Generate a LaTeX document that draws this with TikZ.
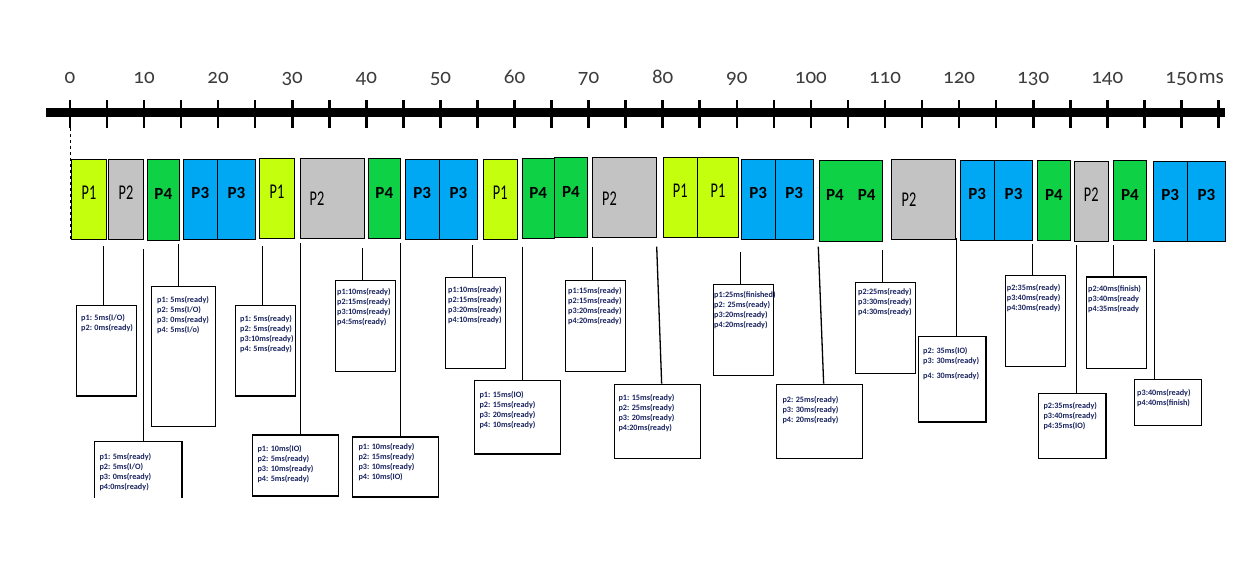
\documentclass[tikz,border=0pt]{standalone}
\usepackage{fontspec}
\setmainfont{Carlito}
\newfontfamily\numfont[Numbers=OldStyle]{Carlito}
\usetikzlibrary{fit}
\definecolor{limec}{RGB}{196,255,14}
\definecolor{grayc}{RGB}{195,195,195}
\definecolor{greenc}{RGB}{14,209,69}
\definecolor{bluec}{RGB}{0,168,243}
\definecolor{inkc}{RGB}{25,35,95}
\definecolor{numc}{RGB}{60,60,60}
\newcommand{\narrowtxt}[1]{\scalebox{0.68}[1]{#1}}

\begin{document}
\begin{tikzpicture}[x=1pt, y=-1pt,
	blk/.style={draw, line width=0.8, inner sep=0},
	pone/.style={blk, fill=limec, font=\fontsize{21}{21}\selectfont},
	ptwo/.style={blk, fill=grayc, font=\fontsize{21}{21}\selectfont},
	pthree/.style={blk, fill=bluec, font=\bfseries\fontsize{17}{17}\selectfont},
	pfour/.style={blk, fill=greenc, font=\bfseries\fontsize{17}{17}\selectfont},
	plabel/.style={inner sep=0, font=\fontsize{21}{21}\selectfont},
	num/.style={inner sep=0, text=numc, font=\numfont\fontsize{21}{21}\selectfont},
	sbox/.style={draw, line width=1.3, inner sep=0},
	stxt/.style={inner sep=0, anchor=north west, align=left, text=inkc, font=\bfseries\fontsize{8.2}{10}\selectfont, execute at begin node={\rule{0pt}{7pt}}},
	wire/.style={line width=1.3}]
	\fill[white] (0,0) rectangle (1256,562);
	\useasboundingbox (0,0) rectangle (1256,562);
	% time axis
	\draw[line width=9.6] (46,112.5) -- (1225,112.5);
	\foreach \t in {0,5,...,155}
		\draw[line width=2.6] ({69.9+7.41*\t},100) -- ({69.9+7.41*\t},128.3);
	\foreach \t in {0,10,...,150}
		\node[num, anchor=base] (n\t) at ({69.9+7.41*\t},83) {\t};
	\node[num, anchor=base west] (nms) at ([xshift=1]n150.base east) {ms};
	\coordinate (tk0) at (69.9,128.3);
	% time slices
	\node[pone, fit={(71.5,159) (106.5,239)}] (b1) {\narrowtxt{P1}};
	\node[ptwo, fit={(108.5,159) (143.4,239)}] (b2) {\narrowtxt{P2}};
	\node[pfour, fit={(147,159) (179.6,240)}] (b3) {P4};
	\node[pthree, fit={(183.2,159) (217.4,239)}] (b4) {P3};
	\node[pthree, fit={(217.4,159) (255.5,239)}] (b5) {P3};
	\node[pone, fit={(259.5,158.3) (294.5,238.3)}] (b6) {\narrowtxt{P1}};
	\node[ptwo, fit={(300.5,158) (364,238.3)}] (b7) {};
		\node[plabel] (b7l) at (317,199) {\narrowtxt{P2}};
	\node[pfour, fit={(368,158.3) (400.6,238.3)}] (b8) {P4};
	\node[pthree, fit={(405.4,159) (439.1,239)}] (b9) {P3};
	\node[pthree, fit={(439.1,159) (477.7,239)}] (b10) {P3};
	\node[pone, fit={(483,159) (517.5,239)}] (b11) {\narrowtxt{P1}};
	\node[pfour, fit={(521.9,158.3) (554.4,238.3)}] (b12) {P4};
	\node[pfour, fit={(554.4,157.3) (587.4,237.7)}] (b13) {P4};
	\node[ptwo, fit={(592.6,157.7) (656.5,237.3)}] (b14) {};
		\node[plabel] (b14l) at (609.5,198.5) {\narrowtxt{P2}};
	\node[pone, fit={(663,157.7) (697.5,237.7)}] (b15) {\narrowtxt{P1}};
	\node[pone, fit={(697.5,157.7) (738.5,237.7)}] (b16) {\narrowtxt{P1}};
	\node[pthree, fit={(741.3,159) (775,239)}] (b17) {P3};
	\node[pthree, fit={(775,159) (813.5,239)}] (b18) {P3};
	\node[pfour, fit={(819.2,160) (882.5,241)}] (b19) {P4\hspace{14pt}P4};
	\node[ptwo, fit={(891,159) (955,239.7)}] (b20) {};
		\node[plabel] (b20l) at (909,199.5) {\narrowtxt{P2}};
	\node[pthree, fit={(960,160) (994.5,240)}] (b21) {P3};
	\node[pthree, fit={(994.5,160) (1032.6,240)}] (b22) {P3};
	\node[pfour, fit={(1037,160) (1070.7,240.7)}] (b23) {P4};
	\node[ptwo, fit={(1074.4,161) (1108,241.7)}] (b24) {\narrowtxt{P2}};
	\node[pfour, fit={(1113.3,160) (1146.6,240.3)}] (b25) {P4};
	\node[pthree, fit={(1153.5,161) (1187,241)}] (b26) {P3};
	\node[pthree, fit={(1187,161) (1225.7,241)}] (b27) {P3};
	\draw[dashed, line width=0.6] (tk0) -- (tk0 |- b1.south);
	% state boxes
	\node[sbox, fit={(76.3,305.3) (136.7,396)}] (s1) {};
		\node[stxt] (s1t) at (81,314.2) {p1: 5ms(I/O)\\p2: 0ms(ready)};
	\node[sbox, draw=none, fit={(95.3,442.3) (181.3,497)}] (s2) {};
		\draw[wire] (s2.south west) -- (s2.north west) -- (s2.north east) -- (s2.south east);
		\node[stxt] (s2t) at (99.3,453.2) {p1: 5ms(ready)\\p2: 5ms(I/O)\\p3: 0ms(ready)\\p4:0ms(ready)};
	\node[sbox, fit={(151.3,286.3) (215.7,426.3)}] (s3) {};
		\node[stxt] (s3t) at (157,296.5) {p1: 5ms(ready)\\p2: 5ms(I/O)\\p3: 0ms(ready)\\p4: 5ms(I/o)};
	\node[sbox, fit={(235.3,305.3) (295.7,396)}] (s4) {};
		\node[stxt] (s4t) at (240,315.2) {p1: 5ms(ready)\\p2: 5ms(ready)\\p3:10ms(ready)\\p4: 5ms(ready)};
	\node[sbox, fit={(252.3,435) (338.3,496)}] (s5) {};
		\node[stxt] (s5t) at (257.3,445.5) {p1: 10ms(IO)\\p2: 5ms(ready)\\p3: 10ms(ready)\\p4: 5ms(ready)};
	\node[sbox, fit={(335.3,280.3) (395.3,371.3)}] (s6) {};
		\node[stxt] (s6t) at (337,288.2) {p1:10ms(ready)\\p2:15ms(ready)\\p3:10ms(ready)\\p4:5ms(ready)};
	\node[sbox, fit={(352.3,437) (438.7,497)}] (s7) {};
		\node[stxt] (s7t) at (358.3,443.2) {p1: 10ms(ready)\\p2: 15ms(ready)\\p3: 10ms(ready)\\p4: 10ms(IO)};
	\node[sbox, fit={(445.3,277.3) (505.7,368.3)}] (s8) {};
		\node[stxt] (s8t) at (448,286.5) {p1:10ms(ready)\\p2:15ms(ready)\\p3:20ms(ready)\\p4:10ms(ready)};
	\node[sbox, fit={(474.3,380.3) (560.3,454)}] (s9) {};
		\node[stxt] (s9t) at (479.3,390.8) {p1: 15ms(IO)\\p2: 15ms(ready)\\p3: 20ms(ready)\\p4: 10ms(ready)};
	\node[sbox, fit={(565.3,280.3) (625.3,371.3)}] (s10) {};
		\node[stxt] (s10t) at (568,287.2) {p1:15ms(ready)\\p2:15ms(ready)\\p3:20ms(ready)\\p4:20ms(ready)};
	\node[sbox, fit={(614.3,384.3) (700.3,458.3)}] (s11) {};
		\node[stxt] (s11t) at (618.3,393.8) {p1: 15ms(ready)\\p2: 25ms(ready)\\p3: 20ms(ready)\\p4:20ms(ready)};
	\node[sbox, fit={(713.3,284.3) (773.7,375.3)}] (s12) {};
		\node[stxt] (s12t) at (714,290.8) {p1:25ms(finished)\\p2: 25ms(ready)\\p3:20ms(ready)\\p4:20ms(ready)};
	\node[sbox, fit={(776.3,384.3) (862.3,458.3)}] (s13) {};
		\node[stxt] (s13t) at (782.3,395.8) {p2: 25ms(ready)\\p3: 30ms(ready)\\p4: 20ms(ready)};
	\node[sbox, fit={(855.3,282.3) (915.7,373.3)}] (s14) {};
		\node[stxt] (s14t) at (858,287.8) {p2:25ms(ready)\\p3:30ms(ready)\\p4:30ms(ready)};
	\node[sbox, fit={(918.3,336.3) (986,422)}] (s15) {};
		\node[stxt] (s15t) at (923,346.8) {p2: 35ms(IO)\\p3: 30ms(ready)\\[5pt]p4: 30ms(ready)};
	\node[sbox, fit={(1005.3,275.3) (1065.7,366.3)}] (s16) {};
		\node[stxt] (s16t) at (1006.7,283.8) {p2:35ms(ready)\\p3:40ms(ready)\\p4:30ms(ready)};
	\node[sbox, fit={(1038.3,393.3) (1106,458.3)}] (s17) {};
		\node[stxt] (s17t) at (1043.3,401.8) {p2:35ms(ready)\\p3:40ms(ready)\\p4:35ms(IO)};
	\node[sbox, fit={(1086.3,277) (1146.7,368.3)}] (s18) {};
		\node[stxt] (s18t) at (1088,285.2) {p2:40ms(finish)\\p3:40ms(ready\\p4:35ms(ready};
	\node[sbox, fit={(1134.3,379.3) (1201.7,425.3)}] (s19) {};
		\node[stxt] (s19t) at (1137,389.2) {p3:40ms(ready)\\p4:40ms(finish)};
	% connectors
	\coordinate (c1) at (103.3,246);
	\coordinate (c2) at (143.3,249);
	\coordinate (c3) at (178.3,244);
	\coordinate (c4) at (262.3,246);
	\coordinate (c5) at (300.3,243);
	\coordinate (c6) at (362.3,248);
	\coordinate (c7) at (400.3,243);
	\coordinate (c8) at (472.3,245);
	\coordinate (c9) at (522.3,246.7);
	\coordinate (c10) at (592.3,247);
	\coordinate (c11) at (656.7,246.7);
	\coordinate (c12) at (740.3,252);
	\coordinate (c13) at (818.3,246.7);
	\coordinate (c14) at (882.3,250);
	\coordinate (c15) at (956.3,238);
	\coordinate (c16) at (1032.3,244);
	\coordinate (c17) at (1076.7,244.7);
	\coordinate (c18) at (1113.3,245);
	\coordinate (c19) at (1154.3,249);
	\draw[wire] (c1) -- (c1 |- s1.north);
	\draw[wire] (c2) -- (c2 |- s2.north);
	\draw[wire] (c3) -- (c3 |- s3.north);
	\draw[wire] (c4) -- (c4 |- s4.north);
	\draw[wire] (c5) -- (c5 |- s5.north);
	\draw[wire] (c6) -- (c6 |- s6.north);
	\draw[wire] (c7) -- (c7 |- s7.north);
	\draw[wire] (c8) -- (c8 |- s8.north);
	\draw[wire] (c9) -- (c9 |- s9.north);
	\draw[wire] (c10) -- (c10 |- s10.north);
	\draw[wire] (c11) -- ([xshift=48]s11.north west);
	\draw[wire] (c12) -- (c12 |- s12.north);
	\draw[wire] (c13) -- ([xshift=48]s13.north west);
	\draw[wire] (c14) -- (c14 |- s14.north);
	\draw[wire] (c15) -- (c15 |- s15.north);
	\draw[wire] (c16) -- (c16 |- s16.north);
	\draw[wire] (c17) -- (c17 |- s17.north);
	\draw[wire] (c18) -- (c18 |- s18.north);
	\draw[wire] (c19) -- (c19 |- s19.north);
\end{tikzpicture}
\end{document}
